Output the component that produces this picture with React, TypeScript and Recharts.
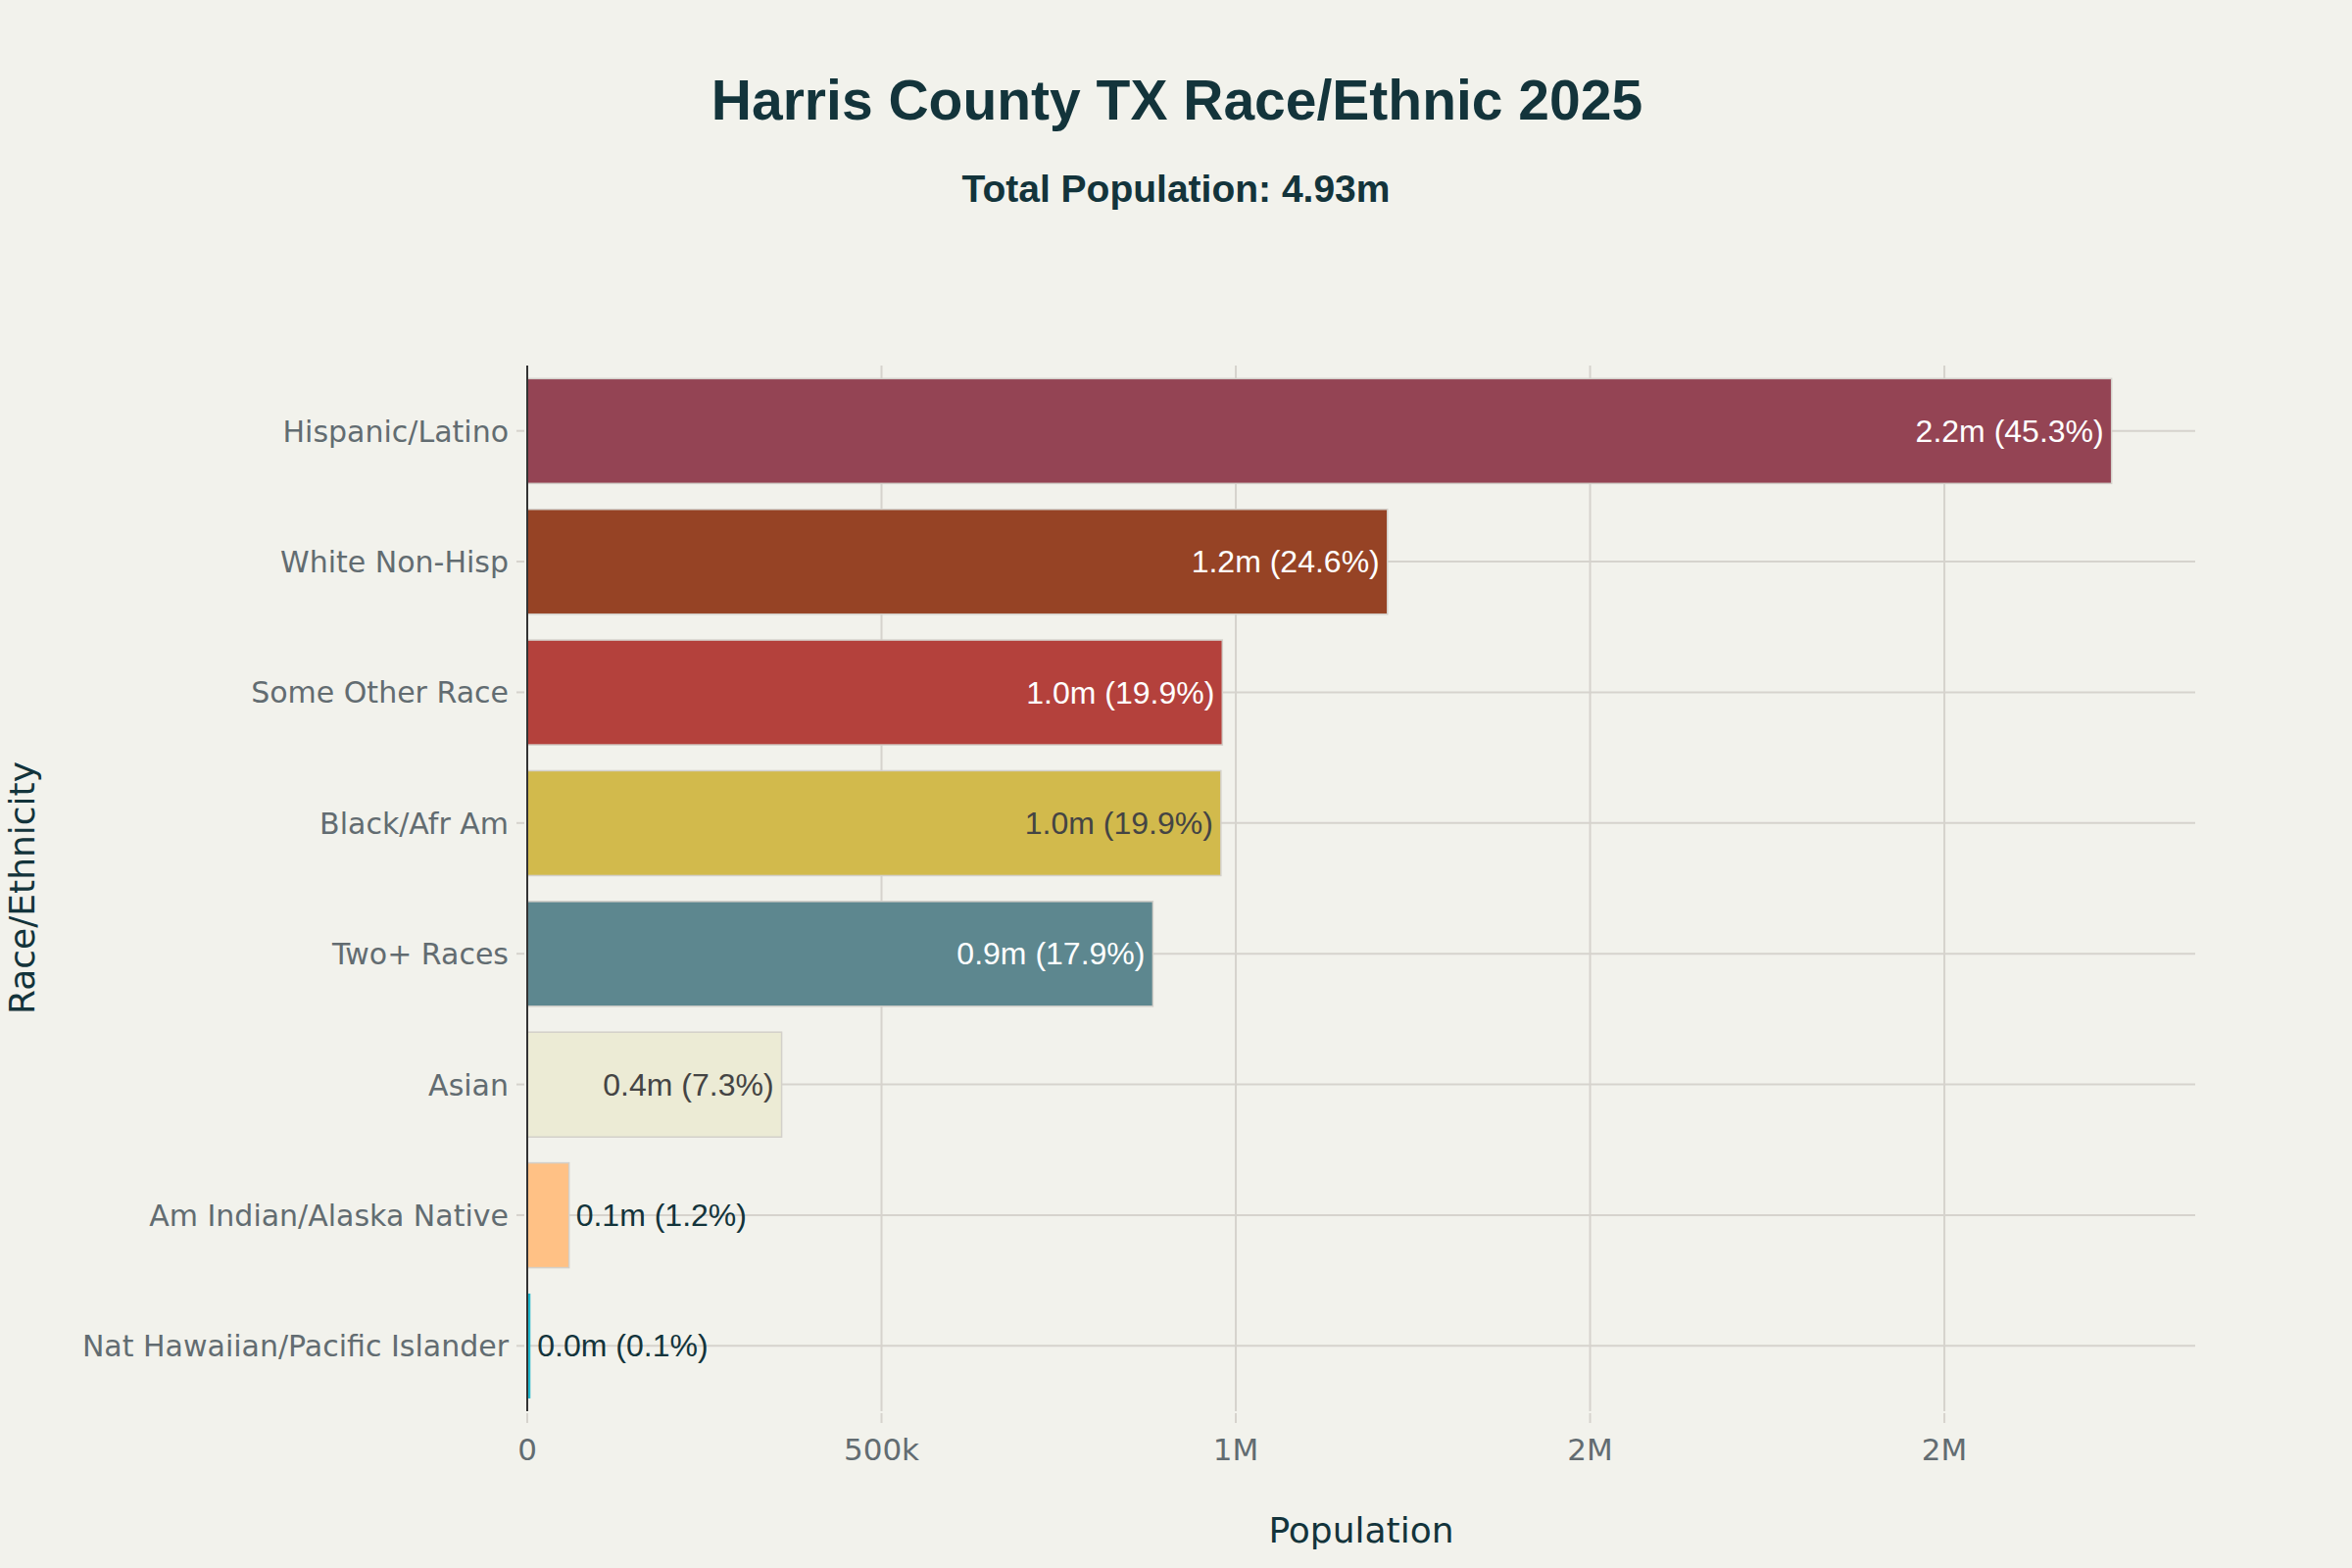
import React from 'react';
import { BarChart, Bar, XAxis, YAxis, CartesianGrid } from 'recharts';

const categories = [
  'Hispanic/Latino',
  'White Non-Hisp',
  'Some Other Race',
  'Black/Afr Am',
  'Two+ Races',
  'Asian',
  'Am Indian/Alaska Native',
  'Nat Hawaiian/Pacific Islander',
];
const populations = [2236000, 1214000, 981000, 979000, 883000, 359000, 59000, 4500];
const percents = [45.3, 24.6, 19.9, 19.9, 17.9, 7.3, 1.2, 0.1];
const barColors = ['#944454', '#964325', '#B4413C', '#D2BA4C', '#5D878F', '#ECEBD5', '#FFC185', '#1FB8CD'];
const insideTextColors = ['#FFFFFF', '#FFFFFF', '#FFFFFF', '#444444', '#FFFFFF', '#444444', '#444444', '#444444'];
const xTicks = [0, 500000, 1000000, 1500000, 2000000];
const xMax = 2354000;

const data = categories.map((name, i) => ({
  name,
  value: populations[i],
  label: `${(populations[i] / 1e6).toFixed(1)}m (${percents[i].toFixed(1)}%)`,
  color: barColors[i],
  insideColor: insideTextColors[i],
}));

const BG = '#F2F2EC';
const DARK = '#13343B';
const TICK = '#626C71';
const GRID = '#D6D3CD';

const fmtTick = (v: number) => {
  if (v === 0) return '0';
  if (v >= 1e6) return `${Math.round(v / 1e6)}M`;
  return `${Math.round(v / 1e3)}k`;
};

const YTick = (props: any) => {
  const { x, y, payload } = props;
  return (
    <g>
      <line x1={x - 11} x2={x - 3} y1={y} y2={y} stroke={GRID} strokeWidth={2} />
      <text x={x - 19} y={y + 11} textAnchor="end" fill={TICK} fontSize={30} fontFamily="DejaVu Sans">
        {payload.value}
      </text>
    </g>
  );
};

const XTick = (props: any) => {
  const { x, y, payload } = props;
  return (
    <g>
      <line x1={x} x2={x} y1={y + 2} y2={y + 12} stroke={GRID} strokeWidth={2} />
      <text x={x} y={y + 50} textAnchor="middle" fill={TICK} fontSize={31} fontFamily="DejaVu Sans">
        {fmtTick(payload.value)}
      </text>
    </g>
  );
};

const BarShape = (props: any) => {
  const { x, y, width, height, payload } = props;
  const fs = 32;
  const estW = payload.label.length * fs * 0.53;
  const inside = width > estW + 20;
  const cy = y + height / 2 + 11;
  return (
    <g>
      <rect x={x} y={y} width={Math.max(width, 0)} height={height} fill={payload.color}
        stroke={width > 6 ? '#D3D0CA' : 'none'} strokeWidth={1.5} />
      {inside ? (
        <text x={x + width - 8} y={cy} textAnchor="end" fill={payload.insideColor} fontSize={fs}
          fontFamily="Liberation Sans, Arial, sans-serif">
          {payload.label}
        </text>
      ) : (
        <text x={x + width + 7} y={cy} textAnchor="start" fill={DARK} fontSize={fs}
          fontFamily="Liberation Sans, Arial, sans-serif">
          {payload.label}
        </text>
      )}
    </g>
  );
};

const vGen = (args: any) => {
  const { xAxis, offset } = args || {};
  if (xAxis && typeof xAxis.scale === 'function') {
    return xTicks.map((t) => xAxis.scale(t));
  }
  return xTicks.map((t) => offset.left + (t / xMax) * offset.width);
};

const hGen = (args: any) => {
  const { yAxis, offset } = args || {};
  if (yAxis && typeof yAxis.scale === 'function' && typeof yAxis.scale.bandwidth === 'function') {
    const bw = yAxis.scale.bandwidth();
    return categories.map((c) => yAxis.scale(c) + bw / 2);
  }
  const band = offset.height / categories.length;
  return categories.map((_, i) => offset.top + band * (i + 0.5));
};

export default function App() {
  return (
    <div style={{ position: 'absolute', left: 0, top: 0, width: 2400, height: 1600, background: BG }}>
      <BarChart
        width={2400}
        height={1600}
        data={data}
        layout="vertical"
        margin={{ top: 373, right: 160, bottom: 60, left: 0 }}
        barCategoryGap="10%"
      >
        <CartesianGrid
          stroke={GRID}
          strokeWidth={2}
          verticalCoordinatesGenerator={vGen}
          horizontalCoordinatesGenerator={hGen}
        />
        <XAxis
          type="number"
          domain={[0, xMax]}
          ticks={xTicks}
          allowDataOverflow
          axisLine={false}
          tickLine={false}
          tickSize={0}
          tickMargin={0}
          height={100}
          tick={<XTick />}
          interval={0}
        />
        <YAxis
          type="category"
          dataKey="name"
          width={538}
          axisLine={{ stroke: '#333333', strokeWidth: 2 }}
          tickLine={false}
          tickSize={0}
          tickMargin={0}
          tick={<YTick />}
          interval={0}
        />
        <Bar dataKey="value" isAnimationActive={false} shape={<BarShape />} />
      </BarChart>
      <svg width={2400} height={1600} style={{ position: 'absolute', left: 0, top: 0, pointerEvents: 'none' }}>
        <text x={1201} y={122} textAnchor="middle" fill={DARK} fontSize={57} fontWeight="bold"
          fontFamily="Liberation Sans, Arial, sans-serif">
          Harris County TX Race/Ethnic 2025
        </text>
        <text x={1200} y={206} textAnchor="middle" fill={DARK} fontSize={39} fontWeight="bold"
          fontFamily="Liberation Sans, Arial, sans-serif">
          Total Population: 4.93m
        </text>
        <text x={1389} y={1574} textAnchor="middle" fill={DARK} fontSize={36} fontFamily="DejaVu Sans">
          Population
        </text>
        <text x={0} y={0} transform="translate(35 906) rotate(-90)" textAnchor="middle" fill={DARK}
          fontSize={36} fontFamily="DejaVu Sans">
          Race/Ethnicity
        </text>
      </svg>
    </div>
  );
}
